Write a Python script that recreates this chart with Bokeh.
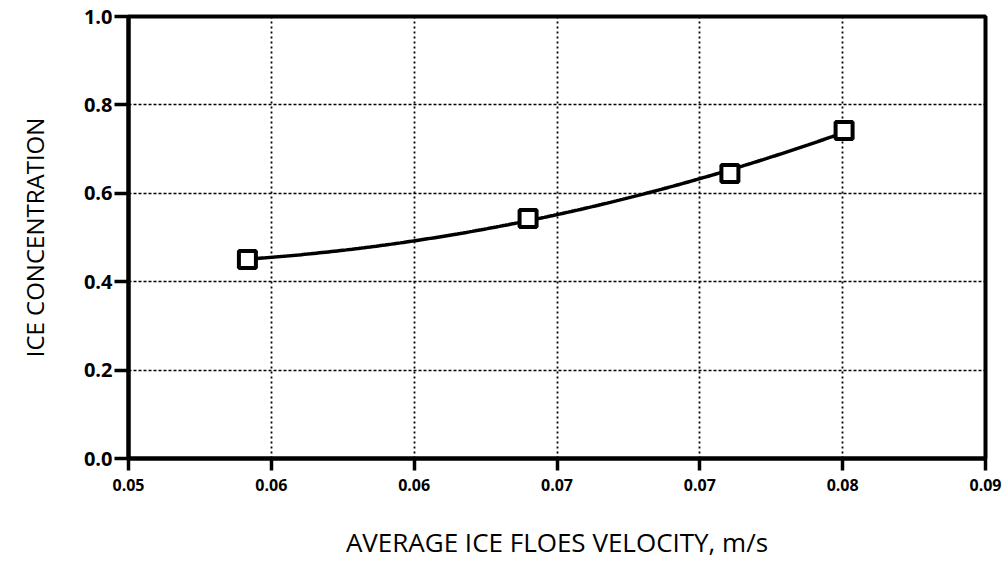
import numpy as np
from bokeh.plotting import figure
from bokeh.models import Range1d, FixedTicker, CustomJSTickFormatter, NumeralTickFormatter
from bokeh.embed import file_html
from bokeh.resources import INLINE

# ---- data ----
velocity = [0.05555, 0.06865, 0.07807, 0.08340]      # m/s
concentration = [0.450, 0.543, 0.645, 0.742]
x_tick_values = [0.05 + k * 0.04 / 6 for k in range(7)]
x_tick_labels = ["0.05", "0.06", "0.06", "0.07", "0.07", "0.08", "0.09"]
y_ticks = [0.0, 0.2, 0.4, 0.6, 0.8, 1.0]

FONT = "Open Sans"

p = figure(width=1006, height=571, output_backend="svg", toolbar_location=None,
           x_range=Range1d(0.05, 0.09), y_range=Range1d(0.0, 1.0),
           min_border_left=128, min_border_right=21, min_border_top=16, min_border_bottom=113)

p.background_fill_color = "white"
p.border_fill_color = "white"
p.outline_line_color = "black"
p.outline_line_width = 4

# smooth trend curve through the measured points (quadratic least squares)
coef = np.polyfit(velocity, concentration, 2)
xs = np.linspace(velocity[0], velocity[-1], 200)
p.line(xs, np.polyval(coef, xs), line_color="black", line_width=3.5)
p.scatter(velocity, concentration, marker="square", size=17, fill_color="white",
          line_color="black", line_width=4)

# axes
p.xaxis.ticker = FixedTicker(ticks=x_tick_values)
p.xaxis.formatter = CustomJSTickFormatter(args=dict(labels=x_tick_labels), code="""
    const i = Math.round((tick - 0.05) / (0.04 / 6));
    return labels[i];
""")
p.yaxis.ticker = FixedTicker(ticks=y_ticks)
p.yaxis.formatter = NumeralTickFormatter(format="0.0")

for ax in (p.xaxis[0], p.yaxis[0]):
    ax.axis_line_width = 4
    ax.axis_line_color = "black"
    ax.major_tick_line_width = 3.5
    ax.major_tick_line_color = "black"
    ax.minor_tick_line_color = None
    ax.major_tick_in = 0
    ax.major_label_text_color = "black"
    ax.major_label_text_font = FONT
    ax.axis_label_text_font = FONT
    ax.axis_label_text_font_style = "normal"
    ax.axis_label_text_color = "black"

p.xaxis.major_tick_out = 12
p.yaxis.major_tick_out = 14
p.xaxis.major_label_text_font_size = "16px"
p.xaxis.major_label_text_font_style = "bold"
p.yaxis.major_label_text_font_size = "20px"
p.yaxis.major_label_text_font_style = "bold"
p.xaxis.major_label_standoff = 8
p.yaxis.major_label_standoff = 2

p.xaxis.axis_label = "AVERAGE ICE FLOES VELOCITY, m/s"
p.xaxis.axis_label_text_font_size = "26px"
p.xaxis.axis_label_standoff = 30
p.yaxis.axis_label = "ICE CONCENTRATION"
p.yaxis.axis_label_text_font_size = "24px"
p.yaxis.axis_label_standoff = 30

# dotted grid
p.xgrid.grid_line_color = "black"
p.xgrid.grid_line_dash = "2 3"
p.xgrid.grid_line_width = 1.8
p.ygrid.grid_line_color = "black"
p.ygrid.grid_line_dash = "3 2"
p.ygrid.grid_line_width = 1.5

open("out.html", "w").write(file_html(p, INLINE))
